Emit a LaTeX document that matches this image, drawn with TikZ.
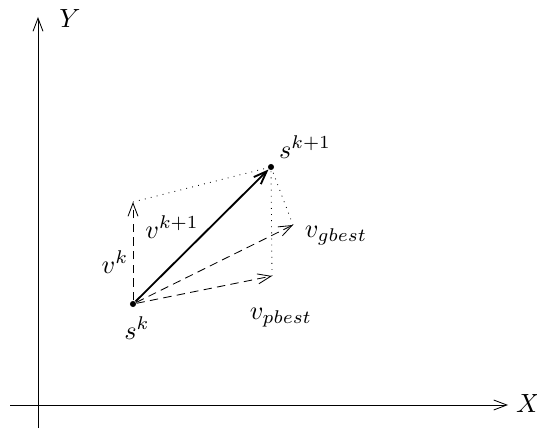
\documentclass[tikz,border=0pt]{standalone}
\usetikzlibrary{arrows.meta}
\begin{document}
\begin{tikzpicture}[x=0.38pt,y=-0.38pt,
  tip/.style={-{Straight Barb[length=5pt,width=3.8pt]}},
  thin line/.style={line width=0.32pt},
  dashline/.style={thin line,dash pattern=on 3.2pt off 2pt},
  dotline/.style={thin line,dotted},
  dot/.style={circle,fill,inner sep=0pt,minimum size=2.3pt},
  lbl/.style={inner sep=0pt}]
\useasboundingbox (0,0) rectangle (537,430);
% axes
\coordinate (ybot) at (38,428);
\coordinate (ytop) at (38,17);
\coordinate (xleft) at (10,405);
\coordinate (xright) at (508,405);
\draw[thin line,tip] (ybot) -- (ytop);
\draw[thin line,tip] (xleft) -- (xright);
\node[lbl] (ylab) at (70,19) {$Y$};
\node[lbl] (xlab) at (528,404) {$X$};
% points
\node[dot] (sk) at (133,304) {};
\node[dot] (sk1) at (271,167) {};
\coordinate (vk) at (133,202);
\coordinate (vp) at (272,276);
\coordinate (vg) at (293,225);
% vectors
\draw[dashline,tip] (sk) -- (vk);
\draw[dashline,tip] (sk) -- (vp);
\draw[dashline,tip] (sk) -- (vg);
\draw[line width=0.7pt,tip] (sk) -- (sk1);
% dotted
\draw[dotline] (vk) -- (sk1);
\draw[dotline] (vp) -- (sk1);
\draw[dotline] (vg) -- (sk1);
% labels
\node[lbl] (lsk1) at (305,147) {$s^{k+1}$};
\node[lbl] (lvg) at (336,236) {$v_{gbest}$};
\node[lbl] (lvp) at (281,318) {$v_{pbest}$};
\node[lbl] (lvk) at (115,262) {$v^k$};
\node[lbl] (lvk1) at (172,227) {$v^{k+1}$};
\node[lbl] (lsk) at (137,328) {$s^k$};
\end{tikzpicture}
\end{document}
